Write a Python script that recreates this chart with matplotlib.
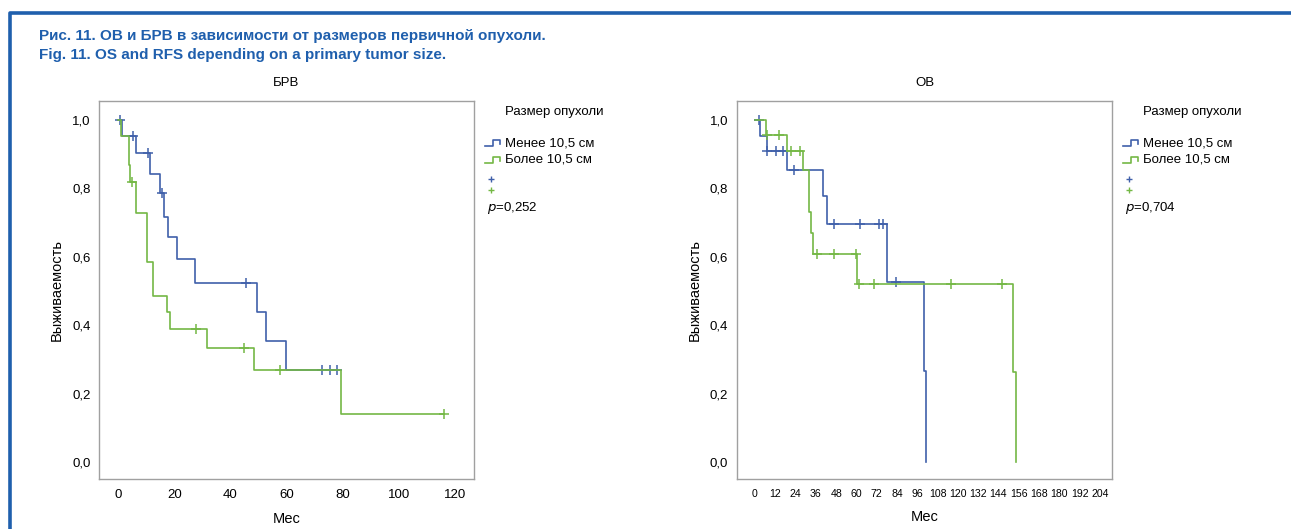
import matplotlib
matplotlib.use("Agg")
import matplotlib.pyplot as plt
from matplotlib.lines import Line2D
import numpy as np

# --- DATA ---
# БРВ, tumor < 10.5 cm
rfs_small_t = [0, 1.4, 6.2, 11.5, 14.8, 16.3, 17.8, 21.1, 27.3, 49.3, 52.6, 59.6]
rfs_small_s = [1.0, 0.954, 0.903, 0.842, 0.786, 0.717, 0.659, 0.594, 0.524, 0.438, 0.355, 0.269]
rfs_small_end = 77.9
rfs_small_cens = [0.6, 5.3, 10.7, 15.8, 45.7, 72.6, 75.3, 77.9]
# БРВ, tumor > 10.5 cm
rfs_large_t = [0, 1.2, 3.9, 4.4, 6.3, 10.3, 12.5, 17.4, 18.4, 31.5, 48.4, 79.3]
rfs_large_s = [1.0, 0.954, 0.868, 0.818, 0.727, 0.586, 0.485, 0.438, 0.389, 0.332, 0.269, 0.139]
rfs_large_end = 116.0
rfs_large_cens = [5.0, 27.9, 44.7, 57.8, 116.0]

# ОВ, tumor < 10.5 cm
os_small_t = [0, 3.0, 6.9, 18.7, 40.0, 42.8, 77.9, 99.9, 101.4]
os_small_s = [1.0, 0.954, 0.910, 0.854, 0.778, 0.695, 0.527, 0.267, 0.0]
os_small_end = 101.4
os_small_cens = [2.4, 7.3, 12.2, 16.7, 23.0, 46.7, 62.1, 73.3, 75.5, 83.2]
# ОВ, tumor > 10.5 cm
os_large_t = [0, 6.5, 19.1, 28.6, 31.9, 33.1, 34.5, 60.5, 152.8, 154.3]
os_large_s = [1.0, 0.956, 0.909, 0.854, 0.730, 0.669, 0.607, 0.522, 0.264, 0.0]
os_large_end = 154.3
os_large_cens = [6.9, 14.2, 21.3, 26.6, 36.5, 46.7, 59.7, 61.3, 70.4, 116.1, 146.3]

group_labels = ["Менее 10,5 см", "Более 10,5 см"]
p_values = ["0,252", "0,704"]
panel_titles = ["БРВ", "ОВ"]
rfs_xticks = [0, 20, 40, 60, 80, 100, 120]
os_xticks = list(range(0, 205, 12))
yticks = [0.0, 0.2, 0.4, 0.6, 0.8, 1.0]

# --- STYLE ---
W, H = 1291, 529
BLUE = "#4060aa"
GREEN = "#74b845"
CAPTION_BLUE = "#1f5fad"
FRAME = "#a0a0a0"
FONT = ["Liberation Sans", "DejaVu Sans"]

plt.rcParams["font.family"] = FONT


def fx(px):
    return px / W


def fy(py):
    return 1 - py / H


def km_curve(ax, t, s, end, cens, color):
    # step line of the survival function
    xs = list(t) + [end]
    ys = list(s) + [s[-1]]
    ax.step(xs, ys, where="post", color=color, lw=1.2, clip_on=False)
    # censored observations as '+'
    idx = np.searchsorted(t, cens, side="right") - 1
    cy = [s[i] for i in idx]
    ax.plot(cens, cy, ls="none", marker="+", ms=7, mew=1.1, color=color,
            clip_on=False)


def style_axes(ax, title, xticks, xlim, xtick_size):
    ax.set_xlim(*xlim)
    ax.set_ylim(-0.05, 1.056)
    ax.set_xticks(xticks)
    ax.set_xticklabels([str(v) for v in xticks], fontsize=xtick_size)
    ax.set_yticks(yticks)
    ax.set_yticklabels([f"{v:.1f}".replace(".", ",") for v in yticks],
                       fontsize=9.5)
    ax.tick_params(length=0, pad=7)
    ax.tick_params(axis="y", pad=6)
    for sp in ax.spines.values():
        sp.set_color(FRAME)
        sp.set_linewidth(1.0)
    ax.set_title(title, fontsize=9.5, pad=11)
    ax.set_xlabel("Мес", fontsize=10.5, labelpad=8)
    ax.set_ylabel("Выживаемость", fontsize=10.5, labelpad=6)


def legend_block(ax_right_px, pval):
    base = ax_right_px
    fig.text(fx(base + 31), fy(111.7), "Размер опухоли", fontsize=9.5,
             va="center", ha="left")
    for lab, col, yc in zip(group_labels, [BLUE, GREEN], [143.3, 160.0]):
        x0 = base + 11
        xs = [x0, x0 + 8, x0 + 8, x0 + 15, x0 + 15]
        ys = [yc + 3, yc + 3, yc - 3, yc - 3, yc + 1]
        fig.add_artist(Line2D([fx(v) for v in xs], [fy(v) for v in ys],
                              transform=fig.transFigure, color=col, lw=1.2))
        fig.text(fx(base + 31), fy(yc), lab, fontsize=9.5, va="center",
                 ha="left")
    for col, yc in zip([BLUE, GREEN], [179.3, 190.0]):
        fig.add_artist(Line2D([fx(base + 17)], [fy(yc)], transform=fig.transFigure,
                              ls="none", marker="+", ms=5, mew=1.0, color=col))
    fig.text(fx(base + 13), fy(208.3), "$\\it{p}$=" + pval, fontsize=9.5,
             va="center", ha="left")


fig = plt.figure(figsize=(W / 100, H / 100), dpi=100)

# blue frame of the figure box
fig.add_artist(Line2D([fx(10), fx(10), fx(W + 5)], [fy(H + 5), fy(13), fy(13)],
                      transform=fig.transFigure, color=CAPTION_BLUE, lw=2.6))

fig.text(fx(39), fy(36), "Рис. 11. ОВ и БРВ в зависимости от размеров первичной опухоли.",
         color=CAPTION_BLUE, fontsize=11, fontweight="bold",
         va="center", ha="left")
fig.text(fx(39), fy(55), "Fig. 11. OS and RFS depending on a primary tumor size.",
         color=CAPTION_BLUE, fontsize=11, fontweight="bold",
         va="center", ha="left")

ax1 = fig.add_axes([fx(99), fy(479), fx(474) - fx(99), fy(101) - fy(479)])
ax2 = fig.add_axes([fx(736.7), fy(479), fx(1112.3) - fx(736.7), fy(101) - fy(479)])

km_curve(ax1, rfs_small_t, rfs_small_s, rfs_small_end, rfs_small_cens, BLUE)
km_curve(ax1, rfs_large_t, rfs_large_s, rfs_large_end, rfs_large_cens, GREEN)
style_axes(ax1, panel_titles[0], rfs_xticks, (-6.8, 126.7), 9.5)

km_curve(ax2, os_small_t, os_small_s, os_small_end, os_small_cens, BLUE)
km_curve(ax2, os_large_t, os_large_s, os_large_end, os_large_cens, GREEN)
style_axes(ax2, panel_titles[1], os_xticks, (-10.8, 211.3), 7.6)

legend_block(474, p_values[0])
legend_block(1112.3, p_values[1])

fig.savefig("out.png", dpi=100)
